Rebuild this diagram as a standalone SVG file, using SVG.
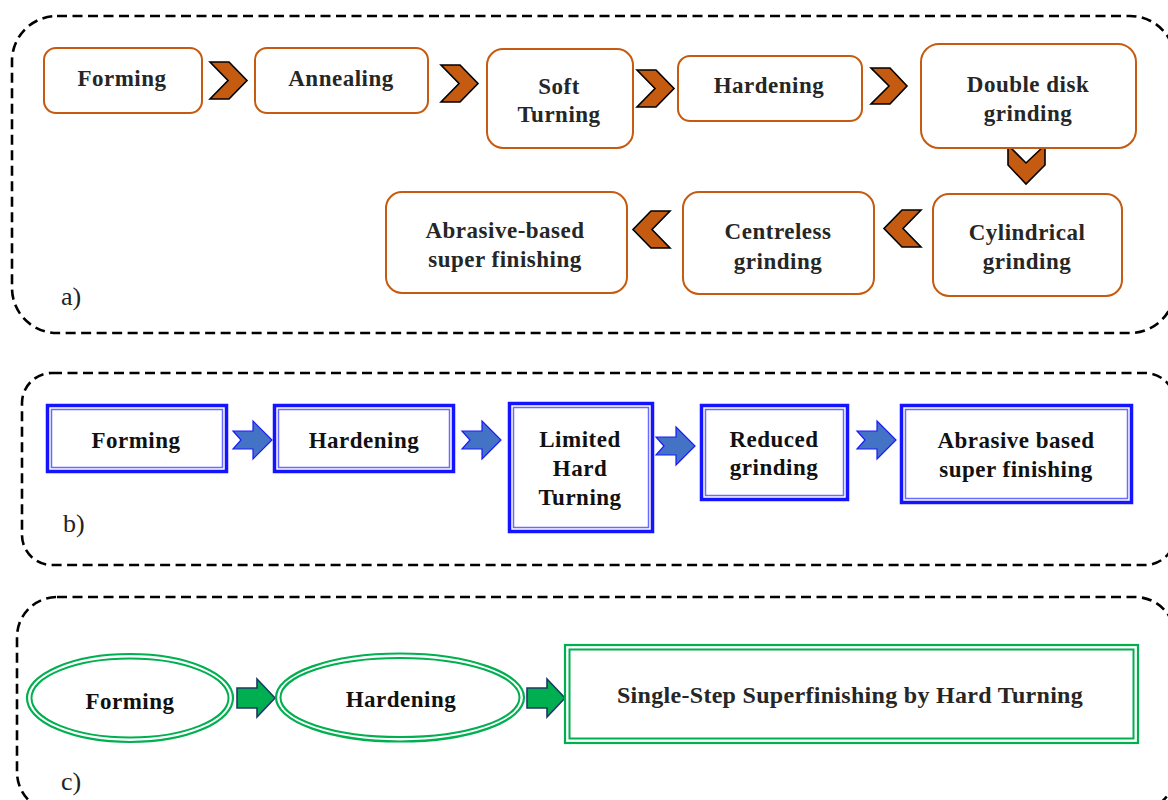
<svg xmlns="http://www.w3.org/2000/svg" xmlns:xlink="http://www.w3.org/1999/xlink" width="1168" height="800" viewBox="0 0 1168 800">
<style>
.panel{fill:none;stroke:#000;stroke-width:2.6;stroke-dasharray:10 5.5}
.obox{fill:#fff;stroke:#c55a11;stroke-width:2}
.chev{fill:#c55a11;stroke:#000;stroke-width:1.6;stroke-linejoin:miter}
.bout{fill:#fff;stroke:#1414ff;stroke-width:3.5}
.bin{fill:none;stroke:#6a6aff;stroke-width:1.5}
.barr{fill:#4472c4;stroke:#1a1aff;stroke-width:1.2}
.gout{fill:#fff;stroke:#00b050;stroke-width:2.2}
.gin{fill:none;stroke:#00b050;stroke-width:2}
.garr{fill:#00b050;stroke:#1f3864;stroke-width:1.6}
.t{font-family:"Liberation Serif","Times New Roman",serif;font-weight:bold;font-size:23px;letter-spacing:0.5px;text-anchor:middle;fill:#262626}
.tb{fill:#111}
.lbl{font-family:"Liberation Serif","Times New Roman",serif;font-size:26px;fill:#222}
</style>
<defs>
<polygon id="barrow" points="0,10 20,10 20,0 39,19 20,38 20,28 0,28 8,19"/>
<polygon id="garrow" points="0,9 20,9 20,0 38,19 20,38 20,29 0,29"/>
</defs>
<rect width="1168" height="800" fill="#fff"/>

<g id="panels">
<rect class="panel" x="12" y="16" width="1163" height="317" rx="45"/>
<rect class="panel" x="22" y="373" width="1153" height="192" rx="30"/>
<rect class="panel" x="17" y="597" width="1158" height="215" rx="40"/>
<text class="lbl" x="61" y="305">a)</text>
<text class="lbl" x="63" y="532">b)</text>
<text class="lbl" x="61" y="790">c)</text>
</g>

<g id="connectors">
<polygon class="chev" points="210,62 229,62 247,80.5 229,99 210,99 228,80.5"/>
<polygon class="chev" points="441,65 460,65 478,83.5 460,102 441,102 459,83.5"/>
<polygon class="chev" points="637,70 656,70 674,88.5 656,107 637,107 655,88.5"/>
<polygon class="chev" points="871,68 890,68 907,86 890,104 871,104 889,86"/>
<polygon class="chev" points="1008,145 1026,163 1045,145 1045,165 1026,184 1008,165"/>
<polygon class="chev" points="921,210 902,210 884,228.5 902,247 921,247 903,228.5"/>
<polygon class="chev" points="670,211 651,211 633,229.5 651,248 670,248 652,229.5"/>
<use xlink:href="#barrow" class="barr" x="233" y="421"/>
<use xlink:href="#barrow" class="barr" x="462" y="421"/>
<use xlink:href="#barrow" class="barr" x="656" y="427"/>
<use xlink:href="#barrow" class="barr" x="857" y="421"/>
<use xlink:href="#garrow" class="garr" x="237" y="679"/>
<use xlink:href="#garrow" class="garr" x="527" y="679"/>
</g>

<g id="a-forming"><rect class="obox" x="44" y="48" width="158" height="65" rx="12"/><text class="t" x="122" y="86">Forming</text></g>
<g id="a-annealing"><rect class="obox" x="255" y="48" width="173" height="65" rx="12"/><text class="t" x="341" y="86">Annealing</text></g>
<g id="a-soft-turning"><rect class="obox" x="487" y="49" width="146" height="99" rx="16"/><text class="t" x="559" y="94">Soft</text><text class="t" x="559" y="122">Turning</text></g>
<g id="a-hardening"><rect class="obox" x="678" y="56" width="184" height="65" rx="12"/><text class="t" x="769" y="93">Hardening</text></g>
<g id="a-double-disk"><rect class="obox" x="921" y="44" width="215" height="104" rx="18"/><text class="t" x="1028" y="92">Double disk</text><text class="t" x="1028" y="121">grinding</text></g>
<g id="a-cylindrical"><rect class="obox" x="933" y="194" width="189" height="102" rx="16"/><text class="t" x="1027" y="240">Cylindrical</text><text class="t" x="1027" y="269">grinding</text></g>
<g id="a-centreless"><rect class="obox" x="683" y="192" width="191" height="102" rx="16"/><text class="t" x="778" y="239">Centreless</text><text class="t" x="778" y="269">grinding</text></g>
<g id="a-abrasive"><rect class="obox" x="386" y="192" width="241" height="101" rx="16"/><text class="t" x="505" y="238">Abrasive-based</text><text class="t" x="505" y="267">super finishing</text></g>

<g id="b-forming"><rect class="bout" x="47.5" y="405.5" width="179" height="66"/><rect class="bin" x="51.5" y="409.5" width="171" height="58"/><text class="t tb" x="136" y="448">Forming</text></g>
<g id="b-hardening"><rect class="bout" x="274.5" y="405.5" width="179" height="66"/><rect class="bin" x="278.5" y="409.5" width="171" height="58"/><text class="t tb" x="364" y="448">Hardening</text></g>
<g id="b-limited"><rect class="bout" x="509.5" y="403.5" width="143" height="128"/><rect class="bin" x="513.5" y="407.5" width="135" height="120"/><text class="t tb" x="580" y="447">Limited</text><text class="t tb" x="580" y="476">Hard</text><text class="t tb" x="580" y="505">Turning</text></g>
<g id="b-reduced"><rect class="bout" x="701.5" y="405.5" width="146" height="94"/><rect class="bin" x="705.5" y="409.5" width="138" height="86"/><text class="t tb" x="774" y="447">Reduced</text><text class="t tb" x="774" y="475">grinding</text></g>
<g id="b-abrasive"><rect class="bout" x="901.5" y="405.5" width="230" height="97"/><rect class="bin" x="905.5" y="409.5" width="222" height="89"/><text class="t tb" x="1016" y="448">Abrasive based</text><text class="t tb" x="1016" y="477">super finishing</text></g>

<g id="c-forming"><ellipse class="gout" cx="130" cy="698" rx="103" ry="44"/><ellipse class="gin" cx="130" cy="698" rx="98.5" ry="39.5"/><text class="t tb" x="130" y="709">Forming</text></g>
<g id="c-hardening"><ellipse class="gout" cx="400" cy="697.5" rx="124" ry="44"/><ellipse class="gin" cx="400" cy="697.5" rx="119.5" ry="39.5"/><text class="t tb" x="401" y="707">Hardening</text></g>
<g id="c-single-step"><rect class="gout" x="565" y="645" width="573" height="98"/><rect class="gin" x="569.5" y="649.5" width="564" height="89"/><text class="t" style="font-size:24px;letter-spacing:0.3px" x="850" y="703">Single-Step Superfinishing by Hard Turning</text></g>
</svg>
